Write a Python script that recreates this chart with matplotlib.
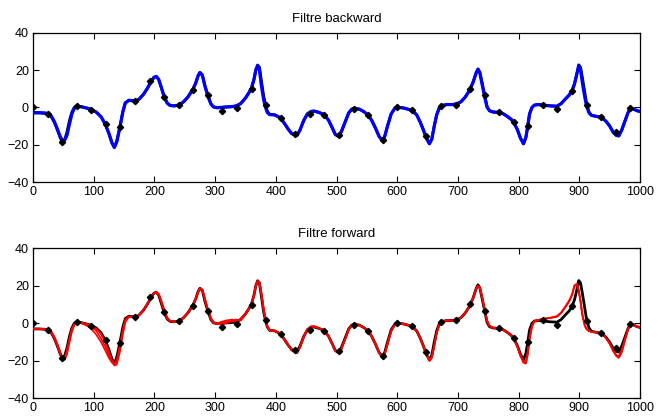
import matplotlib
matplotlib.use("Agg")
import matplotlib.pyplot as plt

plt.rcParams['font.family'] = ['Liberation Sans', 'DejaVu Sans']

# sample positions of the traces
sample = [
    0, 10, 20, 25, 30, 35, 40, 45, 48, 52,
    56, 60, 64, 68, 72, 80, 90, 96, 104, 112,
    119, 125, 130, 134, 138, 143, 148, 152, 158, 165,
    169, 175, 182, 188, 194, 199, 203, 207, 211, 216,
    221, 226, 233, 241, 248, 255, 263, 268, 272, 275,
    279, 283, 288, 293, 297, 303, 310, 318, 328, 335,
    342, 350, 356, 360, 364, 367, 370, 373, 376, 380,
    383, 386, 390, 398, 407, 414, 420, 426, 432, 435,
    440, 446, 452, 458, 463, 470, 480, 487, 493, 498,
    503, 508, 514, 520, 525, 530, 538, 545, 552, 558,
    564, 570, 575, 579, 584, 590, 596, 602, 610, 618,
    625, 632, 638, 643, 648, 653, 657, 661, 665, 669,
    674, 682, 690, 698, 705, 712, 719, 725, 730, 733,
    736, 740, 744, 748, 752, 758, 768, 775, 782, 788,
    792, 798, 803, 808, 812, 815, 818, 822, 826, 832,
    841, 852, 863, 870, 877, 883, 888, 892, 896, 899,
    902, 905, 909, 912, 916, 920, 928, 937, 944, 950,
    956, 961, 965, 970, 975, 980, 984, 990, 995, 1000,
]

# true signal
truth = [
    -3.0, -3.0, -3.2, -3.6, -5.0, -8.0, -12.0, -16.5, -18.3, -17.5,
    -13.0, -7.0, -2.5, 0.0, 0.8, 0.3, -0.5, -1.2, -2.5, -5.0,
    -9.0, -14.0, -19.0, -21.5, -18.0, -10.5, -2.0, 2.5, 3.8, 3.5,
    3.2, 4.5, 7.0, 10.0, 13.5, 16.0, 16.6, 15.0, 11.0, 5.8,
    2.3, 1.0, 0.8, 1.3, 3.0, 5.5, 9.4, 13.0, 17.0, 18.7,
    17.5, 12.0, 6.5, 2.0, 0.3, -0.2, 0.0, 0.2, 0.4, 0.8,
    2.0, 5.0, 8.0, 10.5, 15.0, 20.0, 22.7, 21.5, 15.0, 6.0,
    1.5, -2.0, -3.8, -4.0, -5.5, -8.5, -11.5, -14.0, -14.8, -15.0,
    -12.0, -7.0, -3.5, -2.2, -2.0, -2.6, -3.9, -7.0, -11.0, -14.5,
    -15.5, -13.0, -8.0, -3.0, -1.0, -0.5, -1.0, -2.3, -4.1, -7.0,
    -11.0, -15.5, -17.6, -16.0, -10.0, -3.5, -0.5, 0.0, -0.3, -1.0,
    -1.8, -4.0, -8.0, -12.0, -16.5, -19.5, -17.0, -10.0, -4.0, -0.5,
    1.0, 1.5, 1.5, 1.8, 3.0, 5.5, 9.0, 13.5, 18.5, 20.5,
    19.0, 13.0, 6.7, 0.5, -1.8, -2.5, -2.7, -3.5, -5.0, -6.5,
    -8.1, -12.0, -16.5, -19.5, -16.0, -10.0, -3.5, 0.0, 1.2, 1.5,
    1.2, 0.8, 0.6, 2.0, 4.5, 6.5, 9.0, 12.5, 18.0, 22.8,
    21.5, 16.0, 8.0, 2.0, -2.5, -4.3, -4.8, -5.4, -7.5, -10.0,
    -13.5, -15.0, -15.3, -12.0, -7.5, -3.0, -0.5, -1.0, -1.8, -2.2,
]

# backward (smoothed) estimate
backward = [
    -2.8, -2.8, -3.0, -3.4, -4.6, -7.5, -11.5, -15.8, -17.4, -17.6,
    -15.0, -9.0, -3.5, -0.5, 0.6, 0.3, -0.5, -1.2, -2.5, -5.0,
    -9.0, -14.0, -19.0, -21.5, -18.5, -11.0, -2.5, 2.3, 3.8, 3.5,
    3.2, 4.5, 7.0, 10.0, 13.5, 16.0, 16.6, 15.0, 11.0, 5.8,
    2.3, 1.0, 0.8, 1.3, 3.0, 5.5, 9.4, 13.0, 17.0, 18.7,
    17.0, 11.5, 6.0, 1.8, 0.3, -0.2, 0.0, 0.2, 0.4, 0.8,
    2.0, 5.0, 8.0, 10.5, 15.0, 20.0, 22.3, 20.0, 12.0, 4.0,
    0.0, -2.8, -3.9, -4.0, -5.5, -8.5, -11.5, -14.0, -14.8, -15.0,
    -12.0, -7.0, -3.5, -2.2, -2.0, -2.6, -3.9, -7.0, -11.0, -14.5,
    -15.5, -13.0, -8.0, -3.0, -1.0, -0.5, -1.0, -2.3, -4.1, -7.0,
    -11.0, -15.5, -17.6, -16.0, -10.0, -3.5, -0.5, 0.0, -0.3, -1.0,
    -1.8, -4.0, -8.0, -12.0, -16.5, -19.5, -17.0, -10.0, -4.0, -0.5,
    1.0, 1.5, 1.5, 1.8, 3.0, 5.5, 9.0, 13.5, 18.5, 20.5,
    18.5, 12.0, 5.5, 0.0, -1.8, -2.5, -2.7, -3.5, -5.0, -6.5,
    -8.1, -12.0, -16.5, -19.5, -16.0, -10.0, -3.5, 0.0, 1.2, 1.5,
    1.2, 0.8, 0.6, 2.0, 4.5, 6.5, 9.0, 12.5, 18.0, 22.3,
    20.0, 13.0, 5.5, 0.5, -3.0, -4.3, -4.8, -5.4, -7.5, -10.0,
    -13.5, -15.0, -15.3, -12.0, -7.5, -3.0, -0.5, -1.0, -1.8, -2.2,
]

# forward estimates (several runs)
forward_1 = [
    -3.0, -3.0, -3.2, -3.5, -4.6, -7.5, -11.5, -16.0, -18.5, -18.8,
    -15.0, -9.0, -3.5, -0.5, 0.6, 0.3, -0.5, -1.3, -2.8, -5.5,
    -10.0, -15.0, -19.5, -21.5, -20.5, -13.0, -4.0, 1.5, 3.6, 3.5,
    3.2, 4.5, 7.0, 10.0, 13.5, 16.0, 16.6, 15.5, 12.0, 6.8,
    2.8, 1.2, 0.8, 1.3, 3.0, 5.5, 9.4, 13.0, 17.0, 18.7,
    17.8, 12.8, 7.0, 2.5, 0.5, -0.3, 0.2, 0.8, 1.0, 1.2,
    2.2, 5.0, 8.0, 10.5, 15.0, 20.0, 22.5, 21.8, 16.0, 7.0,
    2.0, -1.8, -3.8, -4.0, -5.5, -8.5, -11.5, -14.0, -15.0, -15.5,
    -12.5, -7.0, -3.2, -2.0, -1.8, -2.6, -3.9, -7.0, -11.0, -14.5,
    -15.8, -13.5, -8.5, -3.2, -1.0, -0.5, -1.0, -2.3, -4.1, -7.0,
    -11.0, -15.5, -17.8, -16.5, -10.5, -4.0, -0.6, 0.0, -0.3, -1.0,
    -1.8, -4.0, -8.0, -12.0, -16.5, -19.8, -18.0, -11.5, -5.0, -1.0,
    1.0, 1.5, 1.5, 1.8, 3.0, 5.5, 9.0, 13.5, 18.5, 20.0,
    19.0, 13.5, 7.0, 1.0, -1.5, -2.5, -2.7, -3.5, -5.0, -6.5,
    -8.5, -12.5, -17.0, -20.5, -20.0, -15.0, -7.0, -1.0, 1.2, 1.8,
    2.2, 2.8, 3.5, 5.5, 8.5, 11.5, 15.0, 20.0, 21.2, 18.0,
    11.0, 4.0, -1.5, -3.2, -4.2, -4.6, -4.8, -5.5, -7.8, -10.5,
    -14.5, -17.0, -17.5, -14.0, -8.5, -3.0, -0.8, -1.0, -1.8, -2.2,
]

forward_2 = [
    -3.0, -3.0, -3.1, -3.4, -4.3, -7.0, -11.0, -15.5, -18.0, -19.5,
    -16.5, -10.5, -4.5, -1.0, 0.5, 0.4, -0.6, -1.8, -4.0, -8.0,
    -12.5, -17.0, -20.5, -22.5, -22.0, -15.5, -6.0, 0.5, 3.5, 3.6,
    3.3, 4.5, 7.0, 10.0, 13.5, 15.8, 16.6, 15.8, 12.5, 7.5,
    3.2, 1.3, 0.8, 1.4, 3.0, 5.5, 9.2, 12.8, 16.8, 18.5,
    18.0, 13.5, 7.5, 3.0, 0.8, -0.2, 0.8, 1.5, 2.0, 0.5,
    2.5, 5.2, 8.0, 10.5, 14.8, 19.5, 22.2, 22.0, 17.0, 8.0,
    2.5, -1.5, -3.5, -4.0, -5.5, -8.5, -11.5, -14.5, -15.5, -16.0,
    -13.0, -7.5, -3.0, -1.5, -1.5, -2.5, -3.9, -7.0, -11.0, -14.8,
    -16.0, -14.0, -9.0, -3.5, -1.2, -0.5, -1.0, -2.3, -4.1, -7.0,
    -11.0, -15.5, -18.0, -17.0, -11.5, -4.5, -0.8, 0.0, -0.3, -1.0,
    -1.8, -4.0, -8.0, -12.0, -16.5, -20.0, -18.5, -12.5, -5.5, -1.2,
    1.0, 1.5, 1.5, 1.8, 3.0, 5.5, 9.0, 13.5, 18.0, 19.8,
    19.2, 14.0, 7.5, 1.5, -1.2, -2.3, -2.7, -3.5, -5.0, -6.5,
    -8.5, -12.5, -17.5, -21.0, -21.5, -17.0, -9.0, -2.0, 1.0, 1.8,
    2.4, 3.0, 3.8, 5.8, 9.0, 12.0, 15.5, 20.0, 20.5, 17.0,
    12.0, 5.0, -1.0, -3.0, -4.0, -4.5, -4.8, -5.6, -8.0, -11.0,
    -15.0, -17.5, -18.5, -15.5, -9.5, -3.5, -1.0, -1.0, -1.8, -2.2,
]

forward_3 = [
    -3.0, -3.0, -3.2, -3.6, -5.0, -8.0, -12.0, -16.5, -18.8, -18.5,
    -14.0, -8.0, -3.0, -0.3, 0.7, 0.0, -1.5, -3.0, -6.0, -10.0,
    -14.5, -18.5, -21.0, -21.5, -19.5, -12.0, -3.5, 2.0, 3.6, 3.5,
    3.2, 4.5, 7.0, 10.0, 13.5, 16.0, 16.5, 15.2, 11.5, 6.2,
    2.5, 1.0, 0.8, 1.3, 3.0, 5.5, 9.4, 13.0, 17.0, 18.6,
    17.6, 12.5, 6.8, 2.2, 0.3, -0.5, -0.5, 0.0, 1.5, 2.0,
    1.5, 4.8, 8.0, 10.5, 15.0, 20.0, 22.6, 21.8, 15.5, 6.5,
    1.8, -2.0, -3.8, -4.0, -5.5, -8.5, -11.5, -14.2, -15.2, -15.6,
    -12.5, -7.2, -3.3, -2.0, -1.7, -2.5, -3.9, -7.0, -11.0, -14.6,
    -15.8, -13.5, -8.5, -3.3, -1.1, -0.5, -1.0, -2.3, -4.1, -7.0,
    -11.0, -15.5, -17.8, -16.8, -11.0, -4.2, -0.7, 0.0, -0.3, -1.0,
    -1.8, -4.0, -8.0, -12.0, -16.5, -20.0, -18.2, -12.0, -5.2, -1.1,
    1.0, 1.5, 1.5, 1.8, 3.0, 5.5, 9.0, 13.5, 18.2, 19.9,
    19.0, 13.8, 7.2, 1.2, -1.4, -2.4, -2.7, -3.5, -5.0, -6.5,
    -8.3, -12.3, -17.2, -20.8, -21.0, -16.0, -8.0, -1.5, 1.1, 1.8,
    2.3, 2.9, 3.6, 5.6, 8.8, 11.8, 15.2, 20.2, 21.0, 17.5,
    11.5, 4.5, -1.0, -3.2, -4.1, -4.5, -4.8, -5.5, -7.9, -10.8,
    -14.8, -17.2, -18.0, -14.8, -9.0, -3.2, -0.9, -1.0, -1.8, -2.2,
]

# noisy measurements, one every 24 samples
meas_x = list(range(0, 985, 24))
meas_y = [
    0.0, -3.6, -18.4, 0.8, -1.2, -9.0, -10.4, 3.2, 13.9, 5.8,
    1.3, 9.4, 6.5, -1.8, -0.3, 9.9, 1.5, -5.7, -14.4, -3.6,
    -3.9, -14.9, -0.9, -4.1, -17.6, 0.0, -1.4, -15.3, 0.9, 1.5,
    10.1, 6.7, -2.7, -8.1, -9.9, 1.5, -0.9, 9.0, 1.3, -5.4,
    -13.0, -0.3,
]

x_ticks = list(range(0, 1001, 100))
y_ticks = [-40, -20, 0, 20, 40]

fig = plt.figure(figsize=(6.58, 4.19), dpi=100)
ax_top = fig.add_axes([0.0502, 0.5656, 0.9225, 0.3563])
ax_bot = fig.add_axes([0.0502, 0.0494, 0.9225, 0.3580])


def style(ax, title):
    ax.set_xlim(0, 1000)
    ax.set_ylim(-40, 40)
    ax.set_xticks(x_ticks)
    ax.set_yticks(y_ticks)
    ax.tick_params(direction='in', length=4, width=0.8, top=True, right=True,
                   labelsize=9, colors='black', pad=3)
    for s in ax.spines.values():
        s.set_linewidth(0.9)
    ax.set_title(title, fontsize=9.5, pad=8)


# backward panel
ax_top.plot(sample, truth, color='black', lw=2.0, zorder=2)
ax_top.plot(sample, backward, color='#0000ff', lw=2.3, zorder=3)
ax_top.plot(meas_x, meas_y, linestyle='none', marker='D', ms=3.2,
            color='black', zorder=4)
style(ax_top, 'Filtre backward')

# forward panel
ax_bot.plot(sample, truth, color='black', lw=2.0, zorder=2)
for run in (forward_1, forward_2, forward_3):
    ax_bot.plot(sample, run, color='#ff0000', lw=1.2, zorder=3)
ax_bot.plot(meas_x, meas_y, linestyle='none', marker='D', ms=3.2,
            color='black', zorder=4)
style(ax_bot, 'Filtre forward')

fig.savefig('out.png', dpi=100)
